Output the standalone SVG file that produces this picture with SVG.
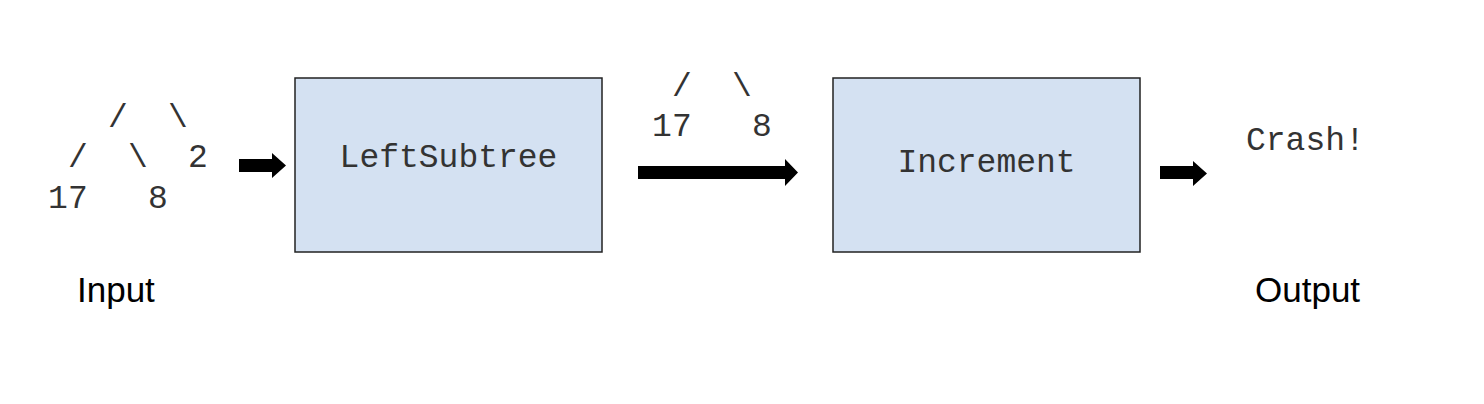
<svg xmlns="http://www.w3.org/2000/svg" width="1484" height="404" viewBox="0 0 1484 404">
<style>
.box{fill:#d4e1f2;stroke:#222;stroke-width:1.5}
.mono{font-family:"Liberation Mono","Courier New",monospace;font-size:33px;fill:#333}
.mid{text-anchor:middle}
.lbl{font-family:"Liberation Sans",Arial,sans-serif;font-size:35px;fill:#000}
.arr{fill:#000}
</style>
<rect width="1484" height="404" fill="#fff"/>
<g id="input">
<text class="mono mid" x="118" y="127">/</text>
<text class="mono mid" x="178" y="127">\</text>
<text class="mono mid" x="78" y="167">/</text>
<text class="mono mid" x="138" y="167">\</text>
<text class="mono mid" x="198" y="167">2</text>
<text class="mono mid" x="58" y="208">1</text>
<text class="mono mid" x="78" y="208">7</text>
<text class="mono mid" x="158" y="208">8</text>
<text class="lbl" x="77" y="302">Input</text>
</g>
<g id="leftsubtree">
<rect class="box" x="295" y="78" width="307" height="174"/>
<text class="mono mid" x="448.5" y="167">LeftSubtree</text>
</g>
<g id="intermediate">
<text class="mono mid" x="682" y="96">/</text>
<text class="mono mid" x="742" y="96">\</text>
<text class="mono mid" x="662" y="136">1</text>
<text class="mono mid" x="682" y="136">7</text>
<text class="mono mid" x="762" y="136">8</text>
</g>
<g id="increment">
<rect class="box" x="833" y="78" width="307" height="174"/>
<text class="mono mid" x="986.5" y="172">Increment</text>
</g>
<g id="output">
<text class="mono" x="1246" y="150">Crash!</text>
<text class="lbl" x="1255" y="302">Output</text>
</g>
<g id="connectors">
<polygon class="arr" points="239,159 272,159 272,153 286,165.5 272,178 272,172 239,172"/>
<polygon class="arr" points="638,166 785,166 785,159 798,172.5 785,186 785,179 638,179"/>
<polygon class="arr" points="1160,166 1193,166 1193,161 1207,173.5 1193,186 1193,179 1160,179"/>
</g>
</svg>
